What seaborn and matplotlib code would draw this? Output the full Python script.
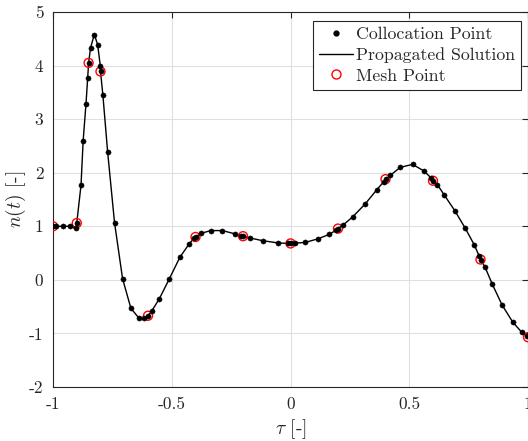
import numpy as np
import pandas as pd
import matplotlib
matplotlib.use("Agg")
import matplotlib.pyplot as plt
import seaborn as sns
from matplotlib.lines import Line2D

# ---- data ----
colloc_tau = [-1.0, -0.986, -0.958, -0.928, -0.905,
              -0.9, -0.882, -0.873, -0.861, -0.854,
              -0.85, -0.842, -0.826, -0.812, -0.801,
              -0.8, -0.79, -0.77, -0.741, -0.707, -0.672, -0.639, -0.616,
              -0.6, -0.584, -0.552, -0.51, -0.466, -0.427, -0.406,
              -0.4, -0.375, -0.336, -0.287, -0.235, -0.208,
              -0.2, -0.169, -0.116, -0.053, -0.011,
              0.0, 0.021, 0.063, 0.115, 0.164, 0.192,
              0.2, 0.223, 0.263, 0.315, 0.363, 0.392,
              0.4, 0.42, 0.462, 0.514, 0.563, 0.592,
              0.6, 0.618, 0.648, 0.692, 0.735, 0.773, 0.794,
              0.8, 0.819, 0.849, 0.891, 0.936, 0.974, 0.994]
colloc_n = [1.0, 1.0, 1.0, 1.0, 0.96,
            1.06, 1.77, 2.60, 3.29, 3.77,
            4.05, 4.33, 4.58, 4.39, 4.0,
            3.89, 3.45, 2.39, 1.07, 0.02, -0.53, -0.71, -0.72,
            -0.67, -0.58, -0.35, 0.02, 0.42, 0.67, 0.78,
            0.80, 0.87, 0.92, 0.92, 0.86, 0.825,
            0.815, 0.78, 0.73, 0.69, 0.68,
            0.68, 0.685, 0.70, 0.765, 0.85, 0.93,
            0.957, 1.03, 1.18, 1.42, 1.68, 1.83,
            1.88, 1.95, 2.10, 2.155, 2.03, 1.90,
            1.85, 1.78, 1.58, 1.29, 0.97, 0.66, 0.45,
            0.38, 0.24, -0.075, -0.47, -0.79, -0.98, -1.05]
line_tau = colloc_tau + [1.0]
line_n = colloc_n + [-1.07]
mesh_tau = [-1.0, -0.9, -0.85, -0.8, -0.6, -0.4, -0.2, 0.0, 0.2, 0.4, 0.6, 0.8, 1.0]
mesh_n = [1.0, 1.06, 4.05, 3.89, -0.67, 0.80, 0.815, 0.68, 0.957, 1.88, 1.85, 0.38, -1.07]
x_ticks = [-1, -0.5, 0, 0.5, 1]
x_ticklabels = ["-1", "-0.5", "0", "0.5", "1"]
y_ticks = [-2, -1, 0, 1, 2, 3, 4, 5]
y_ticklabels = ["-2", "-1", "0", "1", "2", "3", "4", "5"]

df_line = pd.DataFrame({"tau": line_tau, "n": line_n})
df_col = pd.DataFrame({"tau": colloc_tau, "n": colloc_n})
df_mesh = pd.DataFrame({"tau": mesh_tau, "n": mesh_n})

sns.set_style("white")
plt.rcParams["font.family"] = "serif"
plt.rcParams["font.serif"] = ["cmr10", "DejaVu Serif"]
plt.rcParams["mathtext.fontset"] = "cm"
plt.rcParams["axes.unicode_minus"] = False

fig = plt.figure(figsize=(5.28, 4.41), dpi=100)
ax = fig.add_axes([53/528, 54/441, 475/528, 375/441])

sns.lineplot(data=df_line, x="tau", y="n", sort=False, color="black",
             linewidth=1.0, ax=ax, zorder=2, legend=False)
sns.scatterplot(data=df_mesh, x="tau", y="n", marker="o", s=42,
                facecolors="none", edgecolor="red", linewidth=1.0,
                ax=ax, zorder=3, legend=False)
sns.scatterplot(data=df_col, x="tau", y="n", marker="o", s=14,
                color="black", edgecolor="black", linewidth=0.3,
                ax=ax, zorder=4, legend=False)

ax.set_xlim(-1, 1)
ax.set_ylim(-2, 5)
ax.set_xticks(x_ticks)
ax.set_xticklabels(x_ticklabels)
ax.set_yticks(y_ticks)
ax.set_yticklabels(y_ticklabels)
ax.tick_params(direction="in", length=4, width=0.8, top=True, right=True,
               labelsize=12.5, colors="#262626", pad=7)
ax.grid(True, color="#e0e0e0", linewidth=0.8)
ax.set_axisbelow(True)
for s in ax.spines.values():
    s.set_color("#262626")
    s.set_linewidth(0.8)

ax.set_xlabel(r"$\tau$ [-]", fontsize=14, labelpad=4)
ax.set_ylabel(r"$n(t)$ [-]", fontsize=14)
ax.yaxis.set_label_coords(-0.053, 0.5)

handles = [
    Line2D([], [], linestyle="none", marker="o", markersize=3.5,
           color="black"),
    Line2D([], [], color="black", linewidth=1.0),
    Line2D([], [], linestyle="none", marker="o", markersize=6.5,
           markerfacecolor="none", markeredgecolor="red", markeredgewidth=1.0),
]
labels = ["Collocation Point", "Propagated Solution", "Mesh Point"]
leg = ax.legend(handles, labels, loc="upper right", fontsize=12.8,
                frameon=True, fancybox=False, edgecolor="#262626",
                framealpha=1, borderpad=0.35, labelspacing=0.28,
                handlelength=1.9, handletextpad=0.15, borderaxespad=0.0,
                bbox_to_anchor=(0.985, 0.977))
leg.get_frame().set_linewidth(0.8)

fig.savefig("out.png", dpi=100)
